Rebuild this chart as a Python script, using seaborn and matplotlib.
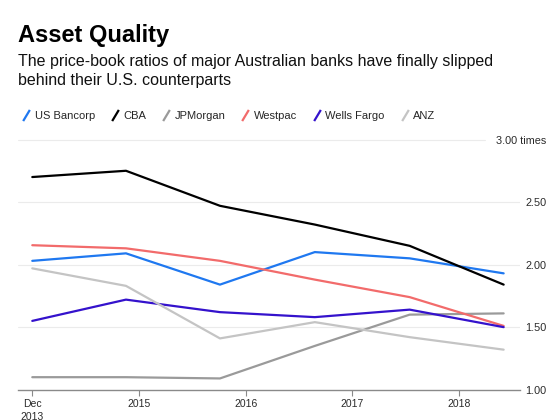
import matplotlib
matplotlib.use("Agg")
import matplotlib.pyplot as plt
import matplotlib.dates as mdates
from matplotlib.lines import Line2D
from matplotlib.path import Path
import numpy as np
import pandas as pd
import seaborn as sns

# ---- data ----
dates = ["2013-12-31", "2014-11-17", "2015-10-05", "2016-08-25", "2017-07-16", "2018-06-03"]
banks = ["US Bancorp", "CBA", "JPMorgan", "Westpac", "Wells Fargo", "ANZ"]
us_bancorp = [2.03, 2.09, 1.84, 2.10, 2.05, 1.93]
cba = [2.70, 2.75, 2.47, 2.32, 2.15, 1.84]
jpmorgan = [1.10, 1.10, 1.09, 1.35, 1.60, 1.61]
westpac = [2.155, 2.13, 2.03, 1.88, 1.74, 1.51]
wells_fargo = [1.55, 1.72, 1.62, 1.58, 1.64, 1.50]
anz = [1.97, 1.83, 1.41, 1.54, 1.42, 1.32]
colors = ["#1f78f0", "#000000", "#9a9a9a", "#f26b6b", "#3412cc", "#c4c4c4"]
ytick_vals = [1.0, 1.5, 2.0, 2.5, 3.0]
ytick_labels = ["1.00", "1.50", "2.00", "2.50", "3.00 times"]
xtick_dates = ["2013-12-31", "2015-01-01", "2016-01-01", "2017-01-01", "2018-01-01"]
xtick_labels = ["Dec\n2013", "2015", "2016", "2017", "2018"]
title = "Asset Quality"
subtitle = "The price-book ratios of major Australian banks have finally slipped\nbehind their U.S. counterparts"

series = [us_bancorp, cba, jpmorgan, westpac, wells_fargo, anz]
df = pd.concat([
    pd.DataFrame({"date": pd.to_datetime(dates), "value": vals, "bank": name})
    for name, vals in zip(banks, series)
], ignore_index=True)
palette = dict(zip(banks, colors))

sns.set_theme(style="white")
plt.rcParams["font.family"] = ["Liberation Sans", "DejaVu Sans"]

fig = plt.figure(figsize=(5.6, 4.2), dpi=100)
ax = fig.add_axes([18 / 560, 1 - 389.7 / 420, (520 - 18) / 560, (389.7 - 139.5) / 420])

# gridlines
for v in ytick_vals[1:-1]:
    ax.axhline(v, color="#ebebeb", lw=0.8, zorder=0)
ax.axhline(3.0, xmin=0, xmax=(485 - 18) / (520 - 18), color="#ebebeb", lw=0.8, zorder=0, clip_on=False)

sns.lineplot(data=df, x="date", y="value", hue="bank", hue_order=banks,
             palette=palette, linewidth=1.6, ax=ax, legend=False)

ax.set_ylim(1.0, 3.0)
x0 = mdates.date2num(pd.Timestamp("2013-12-31"))
ax.set_xlim(x0 - 0.134 * 365.25, x0 + 4.575 * 365.25)

for s in ["top", "left", "right"]:
    ax.spines[s].set_visible(False)
ax.spines["bottom"].set_color("#8a8a8a")
ax.spines["bottom"].set_linewidth(1.0)

ax.set_xticks(mdates.date2num(pd.to_datetime(xtick_dates)))
ax.set_xticklabels(xtick_labels, fontsize=7.5, color="#2a2a2a", linespacing=1.3)
ax.tick_params(axis="x", bottom=True, length=4, width=0.8, color="#8a8a8a", pad=3)

ax.yaxis.tick_right()
ax.set_yticks(ytick_vals)
ax.set_yticklabels(ytick_labels, fontsize=7.8, color="#2a2a2a")
for lab in ax.get_yticklabels():
    lab.set_horizontalalignment("right")
ax.tick_params(axis="y", right=False, left=False, length=0, pad=19)
ax.set_xlabel("")
ax.set_ylabel("")

# title and subtitle
fig.text(18 / 560, 1 - 24 / 420, title, fontsize=17, fontweight="bold", ha="left", va="top", color="#000000")
fig.text(18 / 560, 1 - 54 / 420, subtitle, fontsize=11.5, ha="left", va="top", color="#111111", linespacing=1.3)

# legend with slash markers
slash = Path([(-0.6, -1.0), (0.6, 1.0)], [Path.MOVETO, Path.LINETO])
handles = [Line2D([], [], linestyle="none", marker=slash, markersize=8,
                  markeredgecolor=c, markeredgewidth=1.6, markerfacecolor="none")
           for c in colors]
fig.legend(handles, banks, loc="center left", bbox_to_anchor=(22 / 560, 1 - 116 / 420),
           ncol=6, frameon=False, fontsize=8, handlelength=0.8, handletextpad=0.35,
           columnspacing=1.4, borderaxespad=0, borderpad=0)

fig.savefig("out.png", dpi=100)
